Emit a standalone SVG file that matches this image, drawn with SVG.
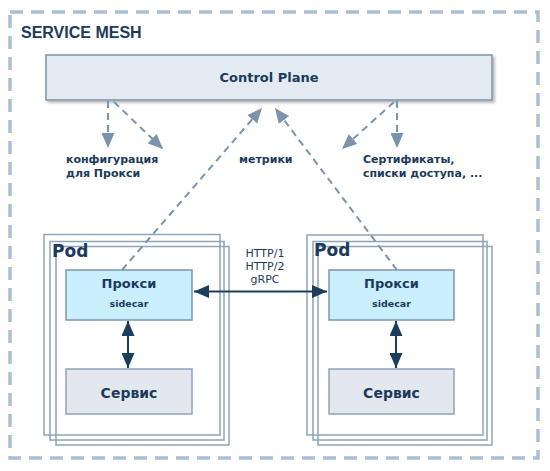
<svg xmlns="http://www.w3.org/2000/svg" width="550" height="471" viewBox="0 0 550 471">
<defs>
<style>
.t{font-family:"DejaVu Sans","Liberation Sans",sans-serif;fill:#1b3a5c}
.b{font-weight:bold}
.pod{fill:none;stroke:#8ea4b8;stroke-width:1.5}
.dash{fill:none;stroke:#7c93ab;stroke-width:2;stroke-dasharray:7 5}
.solid{fill:none;stroke:#1c3e5c;stroke-width:2}
</style>
<marker id="ah" viewBox="0 0 15 13" refX="15" refY="6.5" markerWidth="15" markerHeight="13" markerUnits="userSpaceOnUse" orient="auto">
<path d="M0,0 L15,6.5 L0,13 Z" fill="#7c93ab"/>
</marker>
<marker id="nh" viewBox="0 0 15 13" refX="15" refY="6.5" markerWidth="15" markerHeight="13" markerUnits="userSpaceOnUse" orient="auto-start-reverse">
<path d="M0,0 L15,6.5 L0,13 Z" fill="#1c3e5c"/>
</marker>
<filter id="sh" x="-5%" y="-20%" width="110%" height="150%">
<feDropShadow dx="2" dy="2" stdDeviation="1.5" flood-color="#000" flood-opacity="0.3"/>
</filter>
</defs>
<rect width="550" height="471" fill="#fff"/>
<g id="mesh">
<rect x="10" y="12" width="528" height="446" fill="none" stroke="#a9bfd3" stroke-width="3.5" stroke-dasharray="13 8"/>
<text class="t b" x="21" y="38" style="font-family:'Liberation Sans',Arial,sans-serif;font-size:16px">SERVICE MESH</text>
</g>
<g id="control-plane">
<rect x="46" y="55" width="446" height="45" fill="#e3eaf1" stroke="#7d95ab" stroke-width="1.5" filter="url(#sh)"/>
<text class="t b" x="269" y="82" text-anchor="middle" font-size="13">Control Plane</text>
</g>
<g id="labels">
<text class="t b" x="66" y="163" font-size="11">конфигурация</text>
<text class="t b" x="66" y="177" font-size="11">для Прокси</text>
<text class="t b" x="239" y="163" font-size="11">метрики</text>
<text class="t b" x="363" y="163" font-size="11">Сертификаты,</text>
<text class="t b" x="363" y="177" font-size="11">списки доступа, ...</text>
<text class="t" x="265" y="257" text-anchor="middle" font-size="11">HTTP/1</text>
<text class="t" x="265" y="270" text-anchor="middle" font-size="11">HTTP/2</text>
<text class="t" x="265" y="283" text-anchor="middle" font-size="11">gRPC</text>
</g>
<g id="pod-left">
<rect class="pod" x="44" y="234.5" width="176" height="200.5"/>
<rect class="pod" x="50" y="241.5" width="174" height="198.5"/>
<rect class="pod" x="56" y="246.5" width="173" height="198.5"/>
<text class="t b" x="52" y="257" font-size="17">Pod</text>
</g>
<g id="proxy-left">
<rect x="66" y="270" width="126" height="50" fill="#c9effc" stroke="#7d95ab" stroke-width="1.5"/>
<text class="t b" x="129" y="288" text-anchor="middle" font-size="13">Прокси</text>
<text class="t b" x="129" y="307" text-anchor="middle" font-size="9.5">sidecar</text>
</g>
<g id="service-left">
<rect x="66" y="369" width="126" height="45" fill="#e3e8ee" stroke="#8ea4b8" stroke-width="1.5"/>
<text class="t b" x="129" y="398" text-anchor="middle" font-size="14">Сервис</text>
</g>
<g id="pod-right">
<rect class="pod" x="307" y="235" width="176" height="200"/>
<rect class="pod" x="313" y="241.5" width="174" height="198.5"/>
<rect class="pod" x="318" y="246.5" width="174" height="198.5"/>
<text class="t b" x="314" y="256" font-size="17">Pod</text>
</g>
<g id="proxy-right">
<rect x="329" y="270" width="125" height="50" fill="#c9effc" stroke="#7d95ab" stroke-width="1.5"/>
<text class="t b" x="391.5" y="288" text-anchor="middle" font-size="13">Прокси</text>
<text class="t b" x="391.5" y="307" text-anchor="middle" font-size="9.5">sidecar</text>
</g>
<g id="service-right">
<rect x="329" y="369" width="125" height="45" fill="#e3e8ee" stroke="#8ea4b8" stroke-width="1.5"/>
<text class="t b" x="391.5" y="398" text-anchor="middle" font-size="14">Сервис</text>
</g>
<g id="connectors">
<path class="dash" d="M108,101 L108,148" marker-end="url(#ah)"/>
<path class="dash" d="M114,102 L163,149" marker-end="url(#ah)"/>
<path class="dash" d="M397,101 L397,148" marker-end="url(#ah)"/>
<path class="dash" d="M394,102 L342,149" marker-end="url(#ah)"/>
<path class="dash" d="M122,270 L262,108" marker-end="url(#ah)"/>
<path class="dash" d="M397,270 L275,108" marker-end="url(#ah)"/>
<path class="solid" d="M194,291.5 L327,291.5" marker-start="url(#nh)" marker-end="url(#nh)"/>
<path class="solid" d="M128,321 L128,368" marker-start="url(#nh)" marker-end="url(#nh)"/>
<path class="solid" d="M396,321 L396,368" marker-start="url(#nh)" marker-end="url(#nh)"/>
</g>
</svg>
